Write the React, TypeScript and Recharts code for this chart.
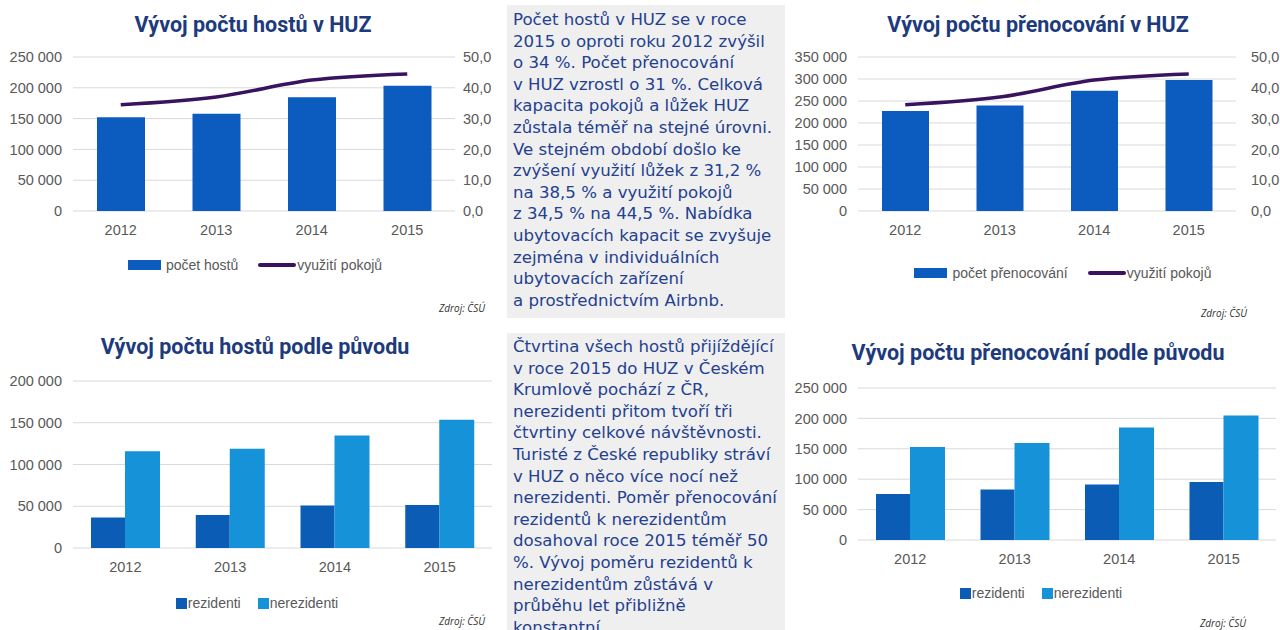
import React from 'react';
import {
  ComposedChart,
  BarChart,
  Bar,
  Line,
  XAxis,
  YAxis,
  CartesianGrid,
  Legend,
} from 'recharts';

const YEARS = ['2012', '2013', '2014', '2015'];

// Vývoj počtu hostů v HUZ
const GUESTS = [152000, 158000, 184500, 203500];
// Vývoj počtu přenocování v HUZ
const OVERNIGHTS = [227500, 239500, 273500, 298000];
// využití pokojů (%)
const ROOM_USE = [34.5, 37.0, 42.5, 44.5];

// podle původu – hosté
const GUESTS_RES = [36500, 39500, 50800, 51500];
const GUESTS_NONRES = [116000, 119000, 134800, 153500];
// podle původu – přenocování
const NIGHTS_RES = [75500, 83000, 91400, 95200];
const NIGHTS_NONRES = [153000, 159700, 185000, 204700];

const TICKS_250 = [0, 50000, 100000, 150000, 200000, 250000];
const TICKS_350 = [0, 50000, 100000, 150000, 200000, 250000, 300000, 350000];
const TICKS_200 = [0, 50000, 100000, 150000, 200000];
const TICKS_PCT = [0, 10, 20, 30, 40, 50];

const TEXT_TOP = [
  'Počet hostů v HUZ se v roce',
  '2015 o oproti roku 2012 zvýšil',
  'o 34 %. Počet přenocování',
  'v HUZ vzrostl o 31 %. Celková',
  'kapacita pokojů a lůžek HUZ',
  'zůstala téměř na stejné úrovni.',
  'Ve stejném období došlo ke',
  'zvýšení využití lůžek z 31,2 %',
  'na 38,5 % a využití pokojů',
  'z 34,5 % na 44,5 %. Nabídka',
  'ubytovacích kapacit se zvyšuje',
  'zejména v individuálních',
  'ubytovacích zařízení',
  'a prostřednictvím Airbnb.',
];

const TEXT_BOTTOM = [
  'Čtvrtina všech hostů přijíždějící',
  'v roce 2015 do HUZ v Českém',
  'Krumlově pochází z ČR,',
  'nerezidenti přitom tvoří tři',
  'čtvrtiny celkové návštěvnosti.',
  'Turisté z České republiky stráví',
  'v HUZ o něco více nocí než',
  'nerezidenti. Poměr přenocování',
  'rezidentů k nerezidentům',
  'dosahoval roce 2015 téměř 50',
  '%. Vývoj poměru rezidentů k',
  'nerezidentům zůstává v',
  'průběhu let přibližně',
  'konstantní',
];

const BAR_BLUE = '#0c5bbf';
const RES_BLUE = '#0b5cb5';
const NONRES_BLUE = '#1692d9';
const LINE_PURPLE = '#3a1360';
const TITLE_NAVY = '#1d3a7c';
const TEXT_BLUE = '#243f8f';
const TICK_GREY = '#595959';
const GRID = '#d9d9d9';

const tickStyle = { fontSize: 14.5, fill: TICK_GREY, fontFamily: 'Liberation Sans, Arial, sans-serif' };

const fmtThousands = (v: number) => String(v).replace(/\B(?=(\d{3})+(?!\d))/g, ' ');
const fmtPct = (v: number) => v.toFixed(1).replace('.', ',');

const comboGuests = YEARS.map((y, i) => ({ year: y, value: GUESTS[i], pct: ROOM_USE[i] }));
const comboNights = YEARS.map((y, i) => ({ year: y, value: OVERNIGHTS[i], pct: ROOM_USE[i] }));
const originGuests = YEARS.map((y, i) => ({ year: y, res: GUESTS_RES[i], nonres: GUESTS_NONRES[i] }));
const originNights = YEARS.map((y, i) => ({ year: y, res: NIGHTS_RES[i], nonres: NIGHTS_NONRES[i] }));

function Title({ text, cx, cy }: { text: string; cx: number; cy: number }) {
  return (
    <div
      style={{
        position: 'absolute',
        left: cx - 250,
        top: cy - 14,
        width: 500,
        height: 28,
        lineHeight: '28px',
        textAlign: 'center',
        fontFamily: 'Roboto, sans-serif',
        fontWeight: 700,
        fontSize: 21.5,
        color: TITLE_NAVY,
        whiteSpace: 'nowrap',
      }}
    >
      {text}
    </div>
  );
}

function Source({ left, cy }: { left: number; cy: number }) {
  return (
    <div
      style={{
        position: 'absolute',
        left,
        top: cy - 7,
        height: 14,
        lineHeight: '14px',
        fontFamily: 'Open Sans, sans-serif',
        fontStyle: 'italic',
        fontSize: 10,
        color: '#333',
        whiteSpace: 'nowrap',
      }}
    >
      Zdroj: ČSÚ
    </div>
  );
}

function TextBox({ lines, top, height, padTop }: { lines: string[]; top: number; height: number; padTop: number }) {
  return (
    <div
      style={{
        position: 'absolute',
        left: 507,
        top,
        width: 278,
        height,
        background: '#efefef',
        overflow: 'hidden',
        boxSizing: 'border-box',
        padding: `${padTop}px 0 0 6px`,
        fontFamily: 'DejaVu Sans, sans-serif',
        fontSize: 16.6,
        lineHeight: '21.6px',
        color: TEXT_BLUE,
        whiteSpace: 'nowrap',
      }}
    >
      {lines.map((l, i) => (
        <div key={i}>{l}</div>
      ))}
    </div>
  );
}

const legendText = { fontFamily: 'Liberation Sans, Arial, sans-serif', fontSize: 14, color: TICK_GREY };

function ComboLegend({ barLabel }: { barLabel: string }) {
  return (
    <div style={{ display: 'flex', justifyContent: 'center', alignItems: 'center', height: 20 }}>
      <span style={{ display: 'inline-block', width: 33, height: 10, background: BAR_BLUE, marginRight: 5 }} />
      <span style={{ ...legendText, marginRight: 20 }}>{barLabel}</span>
      <span style={{ display: 'inline-block', width: 38, height: 4, borderRadius: 2, background: LINE_PURPLE, marginRight: 1 }} />
      <span style={legendText}>využití pokojů</span>
    </div>
  );
}

function OriginLegend() {
  return (
    <div style={{ display: 'flex', justifyContent: 'center', alignItems: 'center', height: 20 }}>
      <span style={{ display: 'inline-block', width: 11, height: 11, background: RES_BLUE, marginRight: 1 }} />
      <span style={{ ...legendText, marginRight: 17 }}>rezidenti</span>
      <span style={{ display: 'inline-block', width: 11, height: 11, background: NONRES_BLUE, marginRight: 1 }} />
      <span style={legendText}>nerezidenti</span>
    </div>
  );
}

function ComboChart({
  data,
  leftTicks,
  leftWidth,
  rightWidth,
  width,
  barSize,
  barLabel,
  legendCx,
  legendTop,
  rightMargin,
}: {
  data: { year: string; value: number; pct: number }[];
  leftTicks: number[];
  leftWidth: number;
  rightWidth: number;
  width: number;
  barSize: number;
  barLabel: string;
  legendCx: number;
  legendTop: number;
  rightMargin: number;
}) {
  return (
    <ComposedChart width={width} height={300} data={data} margin={{ top: 57, right: 0, left: 0, bottom: 59 }}>
      <CartesianGrid yAxisId="left" vertical={false} stroke={GRID} />
      <XAxis
        dataKey="year"
        axisLine={false}
        tickLine={false}
        height={30}
        tick={tickStyle}
        tickMargin={8}
      />
      <YAxis
        yAxisId="left"
        width={leftWidth}
        domain={[0, leftTicks[leftTicks.length - 1]]}
        ticks={leftTicks}
        tickFormatter={fmtThousands}
        axisLine={false}
        tickLine={false}
        tick={tickStyle}
        tickMargin={5}
        interval={0}
      />
      <YAxis
        yAxisId="right"
        orientation="right"
        width={rightWidth}
        domain={[0, 50]}
        ticks={TICKS_PCT}
        tickFormatter={fmtPct}
        axisLine={false}
        tickLine={false}
        tick={{ ...tickStyle, textAnchor: 'start' }}
        tickMargin={rightMargin}
        interval={0}
      />
      <Bar yAxisId="left" dataKey="value" fill={BAR_BLUE} barSize={barSize} isAnimationActive={false} />
      <Line
        yAxisId="right"
        type="monotone"
        dataKey="pct"
        stroke={LINE_PURPLE}
        strokeWidth={3.5}
        dot={false}
        isAnimationActive={false}
      />
      <Legend
        layout="horizontal"
        verticalAlign="middle"
        align="center"
        wrapperStyle={{ left: legendCx - 200, width: 400, top: legendTop }}
        content={() => <ComboLegend barLabel={barLabel} />}
      />
    </ComposedChart>
  );
}

function OriginChart({
  data,
  ticks,
  leftWidth,
  width,
  height,
  top,
  bottom,
  right,
  legendCx,
  legendTop,
}: {
  data: { year: string; res: number; nonres: number }[];
  ticks: number[];
  leftWidth: number;
  width: number;
  height: number;
  top: number;
  bottom: number;
  right: number;
  legendCx: number;
  legendTop: number;
}) {
  return (
    <BarChart width={width} height={height} data={data} margin={{ top, right, left: 0, bottom }} barGap={0}>
      <CartesianGrid vertical={false} stroke={GRID} />
      <XAxis dataKey="year" axisLine={false} tickLine={false} height={30} tick={tickStyle} tickMargin={8} />
      <YAxis
        width={leftWidth}
        domain={[0, ticks[ticks.length - 1]]}
        ticks={ticks}
        tickFormatter={fmtThousands}
        axisLine={false}
        tickLine={false}
        tick={tickStyle}
        tickMargin={5}
        interval={0}
      />
      <Bar dataKey="res" fill={RES_BLUE} barSize={34} isAnimationActive={false} />
      <Bar dataKey="nonres" fill={NONRES_BLUE} barSize={35} isAnimationActive={false} />
      <Legend
        layout="horizontal"
        verticalAlign="middle"
        align="center"
        wrapperStyle={{ left: legendCx - 200, width: 400, top: legendTop }}
        content={() => <OriginLegend />}
      />
    </BarChart>
  );
}

export default function App() {
  return (
    <div style={{ position: 'absolute', left: 0, top: 0, width: 1280, height: 630, background: '#fff', overflow: 'hidden' }}>
      {/* top left */}
      <div style={{ position: 'absolute', left: 0, top: 0 }}>
        <ComboChart
          data={comboGuests}
          leftTicks={TICKS_250}
          leftWidth={73}
          rightWidth={45}
          width={500}
          barSize={48}
          barLabel="počet hostů"
          legendCx={255}
          legendTop={255}
          rightMargin={2}
        />
      </div>
      <Title text="Vývoj počtu hostů v HUZ" cx={253} cy={25} />
      <Source left={439} cy={308} />

      {/* top right */}
      <div style={{ position: 'absolute', left: 790, top: 0 }}>
        <ComboChart
          data={comboNights}
          leftTicks={TICKS_350}
          leftWidth={68}
          rightWidth={44}
          width={490}
          barSize={47}
          barLabel="počet přenocování"
          legendCx={273}
          legendTop={263}
          rightMargin={9}
        />
      </div>
      <Title text="Vývoj počtu přenocování v HUZ" cx={1038} cy={25} />
      <Source left={1201} cy={313} />

      {/* bottom left */}
      <div style={{ position: 'absolute', left: 0, top: 320 }}>
        <OriginChart
          data={originGuests}
          ticks={TICKS_200}
          leftWidth={73}
          width={500}
          height={310}
          top={61}
          bottom={52}
          right={8}
          legendCx={257}
          legendTop={273}
        />
      </div>
      <Title text="Vývoj počtu hostů podle původu" cx={255} cy={347} />
      <Source left={439} cy={621} />

      {/* bottom right */}
      <div style={{ position: 'absolute', left: 790, top: 320 }}>
        <OriginChart
          data={originNights}
          ticks={TICKS_250}
          leftWidth={68}
          width={490}
          height={310}
          top={68}
          bottom={60}
          right={4}
          legendCx={251}
          legendTop={263}
        />
      </div>
      <Title text="Vývoj počtu přenocování podle původu" cx={1038} cy={353} />
      <Source left={1200} cy={623} />

      <TextBox lines={TEXT_TOP} top={5} height={313} padTop={4} />
      <TextBox lines={TEXT_BOTTOM} top={333} height={297} padTop={3} />
    </div>
  );
}
